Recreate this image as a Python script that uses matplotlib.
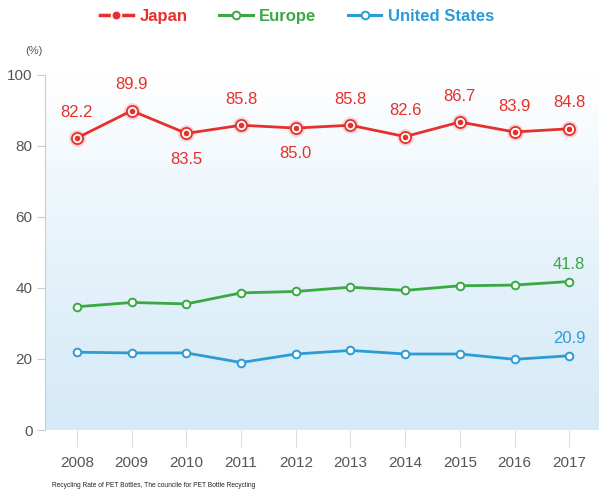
import numpy as np
import matplotlib.pyplot as plt
from matplotlib.lines import Line2D

years = [2008, 2009, 2010, 2011, 2012, 2013, 2014, 2015, 2016, 2017]
japan = [82.2, 89.9, 83.5, 85.8, 85.0, 85.8, 82.6, 86.7, 83.9, 84.8]
europe = [34.7, 35.9, 35.5, 38.6, 39.0, 40.2, 39.3, 40.6, 40.8, 41.8]
usa = [21.9, 21.7, 21.7, 19.0, 21.4, 22.4, 21.4, 21.4, 19.9, 20.9]
japan_below = [2010, 2012]

RED = "#e5302c"
GREEN = "#3aa843"
BLUE = "#2c9bd6"
TXT = "#555555"
FONT = ["Liberation Sans", "DejaVu Sans"]
plt.rcParams["font.family"] = FONT

fig = plt.figure(figsize=(6, 4.92), dpi=100)
ax = fig.add_axes([0.075, 0.126, 0.922, 0.722])

# white-to-light-blue background
grad = np.linspace(1, 0, 256).reshape(-1, 1)
top = np.array([1.0, 1.0, 1.0])
bot = np.array([0.84, 0.92, 0.97])
img = bot + (top - bot) * grad[..., None] ** 1.3
ax.imshow(img, extent=[0, 1, 0, 1], transform=ax.transAxes, aspect="auto", zorder=0)

ax.set_xlim(2007.415, 2017.53)
ax.set_ylim(0, 100)

ax.plot(years, europe, color=GREEN, lw=2.0, marker="o", ms=5.5, mfc="white",
        mec=GREEN, mew=1.4, zorder=3)
ax.plot(years, usa, color=BLUE, lw=2.0, marker="o", ms=5.5, mfc="white",
        mec=BLUE, mew=1.4, zorder=3)
ax.plot(years, japan, color=RED, lw=2.0, zorder=3)
ax.plot(years, japan, ls="none", marker="o", ms=12, mfc=RED, mec="none", alpha=0.2, zorder=4)
ax.plot(years, japan, ls="none", marker="o", ms=8, mfc="white", mec=RED, mew=1.3, zorder=4)
ax.plot(years, japan, ls="none", marker="o", ms=4, mfc=RED, mec="none", zorder=5)

for x, v in zip(years, japan):
    dy = -7.3 if x in japan_below else 7.3
    ax.text(x, v + dy, f"{v:.1f}", color=RED, fontsize=12, ha="center",
            va="center", zorder=6)
ax.text(years[-1], europe[-1] + 4.8, f"{europe[-1]:.1f}", color=GREEN, fontsize=12,
        ha="center", va="center")
ax.text(years[-1], usa[-1] + 4.8, f"{usa[-1]:.1f}", color=BLUE, fontsize=12,
        ha="center", va="center")

for s in ["top", "right", "bottom"]:
    ax.spines[s].set_visible(False)
ax.spines["left"].set_color("#cccccc")
ax.spines["left"].set_linewidth(0.8)

ax.set_yticks([0, 20, 40, 60, 80, 100])
ax.set_xticks(years)
ax.tick_params(axis="y", length=6, color="#cccccc", labelcolor=TXT, labelsize=11, pad=3)
ax.tick_params(axis="x", length=12, color="#dddddd", labelcolor=TXT, labelsize=11,
               pad=7, direction="out")
ax.axhline(0, color="#dddddd", lw=0.8, zorder=1)

fig.text(0.042, 0.89, "(%)", color=TXT, fontsize=8)
fig.text(0.087, 0.01, "Recycling Rate of PET Bottles, The councile for PET Bottle Recycling",
         fontsize=4.8, color="#222222")

handles = [
    Line2D([], [], color=RED, lw=2.5, marker="o", ms=7, mfc=RED, mec="white", mew=1.3),
    Line2D([], [], color=GREEN, lw=2.2, marker="o", ms=5.5, mfc="white", mec=GREEN, mew=1.4),
    Line2D([], [], color=BLUE, lw=2.2, marker="o", ms=5.5, mfc="white", mec=BLUE, mew=1.4),
]
fig.legend(handles, ["Japan", "Europe", "United States"], loc="center",
           bbox_to_anchor=(0.495, 0.966), ncol=3, frameon=False,
           handlelength=2.0, columnspacing=1.9, handletextpad=0.4,
           prop={"size": 12, "weight": "bold"},
           labelcolor=[RED, GREEN, BLUE])

fig.savefig("out.png", dpi=100)
